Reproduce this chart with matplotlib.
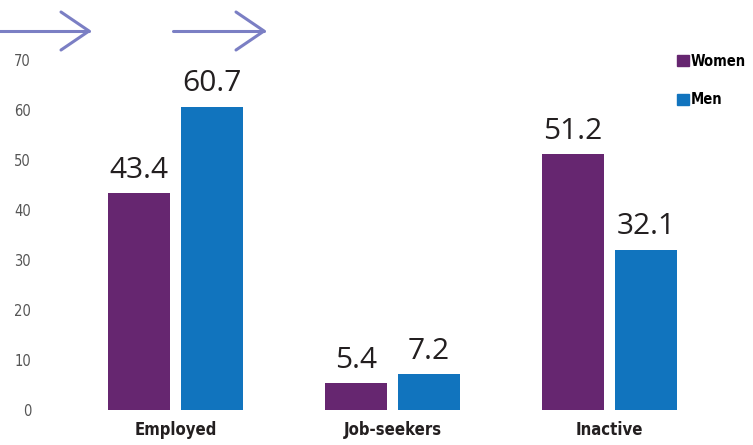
import matplotlib
matplotlib.use('Agg')
import matplotlib.pyplot as plt
import numpy as np
from matplotlib.lines import Line2D
from matplotlib.patches import Patch

categories = ['Employed', 'Job-seekers', 'Inactive']
women = [43.4, 5.4, 51.2]
men = [60.7, 7.2, 32.1]
y_ticks = [0, 10, 20, 30, 40, 50, 60, 70]

WOMEN_COLOR = '#662670'
MEN_COLOR = '#1174be'
ARROW_COLOR = '#7b7fc4'

W, H = 753, 445
fig = plt.figure(figsize=(W / 100, H / 100), dpi=100)

# axes placed in pixel terms: y=0 at 410px, y=70 at 60px
ax = fig.add_axes([45 / W, 1 - 410 / H, (W - 45) / W, 350 / H])

x = np.arange(len(categories))
width = 62 / 217
offset = 36.5 / 217
bars_w = ax.bar(x - offset, women, width, color=WOMEN_COLOR)
bars_m = ax.bar(x + offset, men, width, color=MEN_COLOR)

for bars in (bars_w, bars_m):
    for b in bars:
        ax.annotate(f'{b.get_height():.1f}', (b.get_x() + b.get_width() / 2, b.get_height()),
                    xytext=(0, 6), textcoords='offset points', ha='center', va='bottom',
                    fontsize=21.5, color='#231f20', family=['Open Sans', 'DejaVu Sans'])

ax.set_xlim(-(175.5 - 45) / 217, (W - 175.5) / 217)
ax.set_ylim(0, 70)
ax.set_yticks(y_ticks)
ax.set_yticklabels([str(t) for t in y_ticks], family='DejaVu Sans', stretch='condensed',
                   fontsize=10.5, color='#555555')
ax.set_xticks(x)
ax.set_xticklabels(categories, family='DejaVu Sans', stretch='condensed', fontsize=12,
                   fontweight='bold', color='#231f20')
ax.tick_params(axis='both', length=0)
ax.tick_params(axis='y', pad=10)
ax.tick_params(axis='x', pad=8)
for s in ax.spines.values():
    s.set_visible(False)

handles = [Patch(color=WOMEN_COLOR), Patch(color=MEN_COLOR)]
fig.legend(handles, ['Women', 'Men'], loc='upper left', bbox_to_anchor=(671 / W, 1 - 48 / H),
           frameon=False, handlelength=0.8, handleheight=0.8, handletextpad=0.15,
           labelspacing=1.6, borderaxespad=0,
           prop={'family': 'DejaVu Sans', 'stretch': 'condensed', 'weight': 'bold', 'size': 10.5})

# decorative arrows at the top
def arrow(x0, x1, y=31, dx=28, dy=19):
    tr = fig.transFigure
    fy = lambda v: 1 - v / H
    fig.add_artist(Line2D([x0 / W, x1 / W], [fy(y), fy(y)], transform=tr, color=ARROW_COLOR, lw=2.2,
                          solid_capstyle='round'))
    fig.add_artist(Line2D([(x1 - dx) / W, x1 / W, (x1 - dx) / W], [fy(y - dy), fy(y), fy(y + dy)],
                          transform=tr, color=ARROW_COLOR, lw=2.2, solid_capstyle='round',
                          solid_joinstyle='round'))

arrow(-5, 89)
arrow(173, 264)

fig.savefig('out.png', dpi=100, facecolor='white')
